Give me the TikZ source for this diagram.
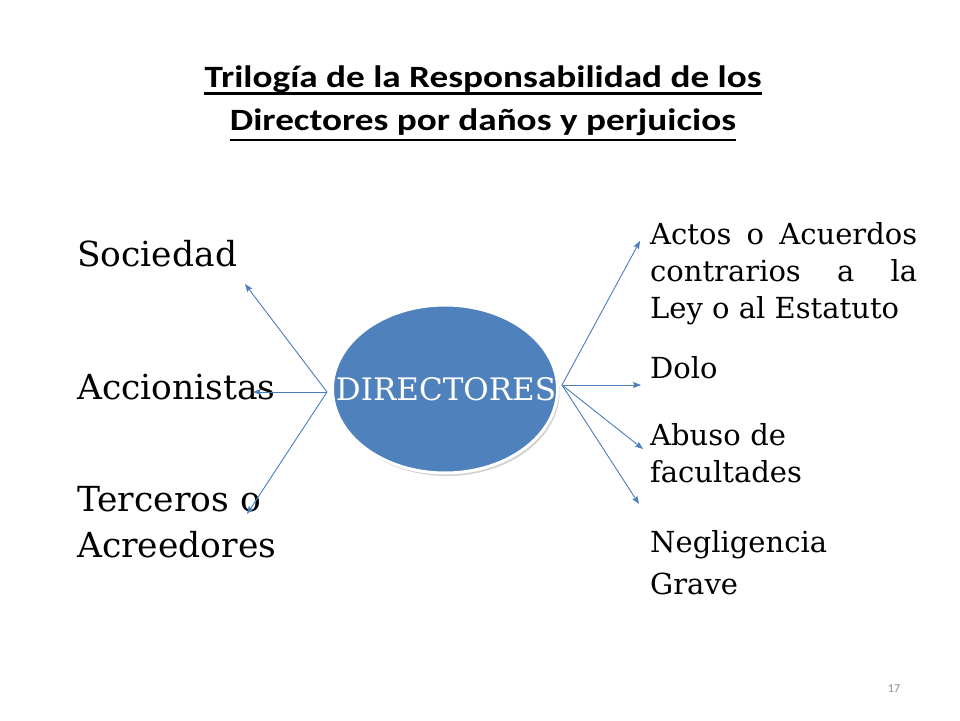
\documentclass[tikz,border=0pt]{standalone}
\usepackage{fontspec}
\setmainfont{DejaVu Serif}
\newfontfamily\titlefont[FakeStretch=1.2]{Carlito}
\newfontfamily\pagefont{Carlito}
\usetikzlibrary{arrows.meta,shapes.geometric,shadows}
\definecolor{ovalblue}{HTML}{4F81BD}
\definecolor{arrowblue}{HTML}{4A7EBB}
\definecolor{pagegray}{HTML}{8C8C8C}
\tikzset{
  titletext/.style={font=\titlefont\bfseries\fontsize{31}{36}\selectfont, anchor=base, inner sep=0},
  leftlabel/.style={font=\fontsize{34.5}{46}\selectfont, anchor=base west, inner sep=0, text width=250pt, align=left},
  rightlabel/.style={font=\fontsize{29}{37}\selectfont, anchor=base west, inner sep=0, text width=267pt, align=left},
  conn/.style={draw=arrowblue, line width=0.9pt, -{Stealth[length=8pt,width=6pt,inset=1.5pt]}},
  uline/.style={line width=2.6pt},
}
\begin{document}
\begin{tikzpicture}[x=1pt,y=-1pt]
\useasboundingbox[fill=white] (0,0) rectangle (960,720);
% title
\node[titletext] (t1) at (483,87) {Trilogía de la Responsabilidad de los};
\node[titletext] (t2) at (483,130) {Directores por daños y perjuicios};
\draw[uline] ([yshift=-6.5pt]t1.base west) -- ([yshift=-6.5pt]t1.base east);
\draw[uline] ([yshift=-10pt]t2.base west) -- ([yshift=-10pt]t2.base east);
% central oval
\node[ellipse, minimum width=225pt, minimum height=168pt, inner sep=0, fill=ovalblue, draw=white, line width=3pt,
      drop shadow={shadow xshift=2pt, shadow yshift=-3pt, opacity=0.35}] (oval) at (445,389) {};
\node[font=\fontsize{31}{36}\selectfont, text=white, inner sep=0, anchor=base] (dirtext) at (446,400) {DIRECTORES};
% left labels
\node[leftlabel] (soc) at (77,266) {Sociedad};
\node[leftlabel] (acc) at (77,399) {Accionistas};
\node[leftlabel] (ter) at (77,511) {Terceros o\\Acreedores};
% right labels
\node[rightlabel, align=justify] (actos) at (650,244)
  {Actos o Acuerdos\linebreak contrarios a la\linebreak Ley o al Estatuto};
\node[rightlabel] (dolo) at (650,378) {Dolo};
\node[rightlabel] (abuso) at (650,445) {Abuso de\\facultades};
\node[rightlabel, font=\fontsize{29}{42}\selectfont] (negl) at (650,552) {Negligencia\\Grave};
% connector ends
\coordinate (lsrc) at (327,392);
\coordinate (rsrc) at (562,385);
\coordinate (socend) at (245,284);
\coordinate (accend) at (253,392);
\coordinate (terend) at (247,514);
\coordinate (actend) at (640,241);
\coordinate (doloend) at (641,385);
\coordinate (abend) at (643,449);
\coordinate (negend) at (639,504);
\draw[conn] (lsrc) -- (socend);
\draw[conn] (lsrc) -- (accend);
\draw[conn] (lsrc) -- (terend);
\draw[conn] (rsrc) -- (actend);
\draw[conn] (rsrc) -- (doloend);
\draw[conn] (rsrc) -- (abend);
\draw[conn] (rsrc) -- (negend);
% page number
\node[font=\pagefont\fontsize{12}{14}\selectfont, text=pagegray, anchor=base, inner sep=0] (pnum) at (894,692) {17};
\end{tikzpicture}
\end{document}
